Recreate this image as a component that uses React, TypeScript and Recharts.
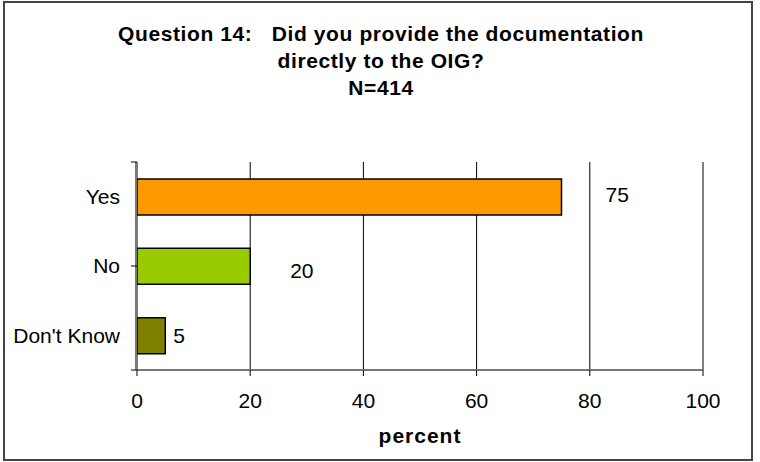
import React from 'react';
import { BarChart, Bar, XAxis, YAxis, CartesianGrid, LabelList, Cell } from 'recharts';

const categories = ['Yes', 'No', "Don't Know"];
const percents = [75, 20, 5];
const barColors = ['#FF9900', '#99CC00', '#808000'];
const xTicks = [0, 20, 40, 60, 80, 100];
const titleLines = ['Question 14:   Did you provide the documentation', 'directly to the OIG?', 'N=414'];

const data = categories.map((c, i) => ({ name: c, value: percents[i] }));

const FONT = '"Liberation Sans", Arial, sans-serif';

const labelShift = [
  { dx: 44, dy: -3 },
  { dx: 40, dy: 4 },
  { dx: 8, dy: 0 },
];

const ValueLabel = (props: any) => {
  const { x, y, width, height, value, index } = props;
  const s = labelShift[index] || { dx: 8, dy: 0 };
  return (
    <text
      x={x + width + s.dx}
      y={y + height / 2 + s.dy}
      dominantBaseline="central"
      textAnchor="start"
      fontFamily={FONT}
      fontSize={21}
      fill="#000"
    >
      {value}
    </text>
  );
};

const EmptyTick = () => <g />;

export default function App() {
  return (
    <div
      style={{
        position: 'absolute',
        left: 3,
        top: 1,
        width: 750,
        height: 460,
        boxSizing: 'border-box',
        border: '2px solid #444',
        background: '#fff',
      }}
    >
      <div
        style={{
          position: 'absolute',
          top: 17,
          left: 3,
          width: '100%',
          textAlign: 'center',
          fontFamily: FONT,
          fontWeight: 'bold',
          fontSize: 21,
          letterSpacing: '0.6px',
          lineHeight: '27px',
          whiteSpace: 'pre',
          color: '#000',
        }}
      >
        {titleLines.map((t, i) => (
          <div key={i}>{t}</div>
        ))}
      </div>
      <BarChart
        width={746}
        height={456}
        data={data}
        layout="vertical"
        margin={{ top: 159, right: 48, bottom: 16, left: 11 }}
        barSize={36}
      >
        <CartesianGrid horizontal={false} vertical={true} stroke="#000" strokeWidth={1} />
        <XAxis
          type="number"
          domain={[0, 100]}
          ticks={xTicks}
          interval={0}
          height={73}
          tickSize={6}
          tickMargin={17}
          axisLine={{ stroke: '#777', strokeWidth: 2 }}
          tickLine={{ stroke: '#000' }}
          tick={{ fontFamily: FONT, fontSize: 21, fill: '#000' }}
          label={{
            value: 'percent',
            position: 'insideBottom',
            offset: 0,
            fontFamily: FONT,
            fontSize: 21,
            fontWeight: 'bold',
            letterSpacing: 1,
            fill: '#000',
          }}
        />
        <YAxis
          yAxisId="b"
          type="category"
          dataKey="name"
          width={120}
          tickSize={0}
          tickMargin={16}
          tickLine={false}
          axisLine={{ stroke: '#777', strokeWidth: 2 }}
          tick={{ fontFamily: FONT, fontSize: 21, fill: '#000' }}
        />
        <YAxis
          yAxisId="a"
          type="number"
          domain={[0, 3]}
          ticks={[0, 1, 2, 3]}
          interval={0}
          width={1}
          tick={<EmptyTick />}
          tickSize={6}
          tickLine={{ stroke: '#000' }}
          axisLine={false}
          allowDataOverflow
        />
        <Bar dataKey="value" yAxisId="b" stroke="#000" strokeWidth={1.5} isAnimationActive={false}>
          {data.map((d, i) => (
            <Cell key={d.name} fill={barColors[i]} />
          ))}
          <LabelList dataKey="value" content={ValueLabel} />
        </Bar>
      </BarChart>
    </div>
  );
}
